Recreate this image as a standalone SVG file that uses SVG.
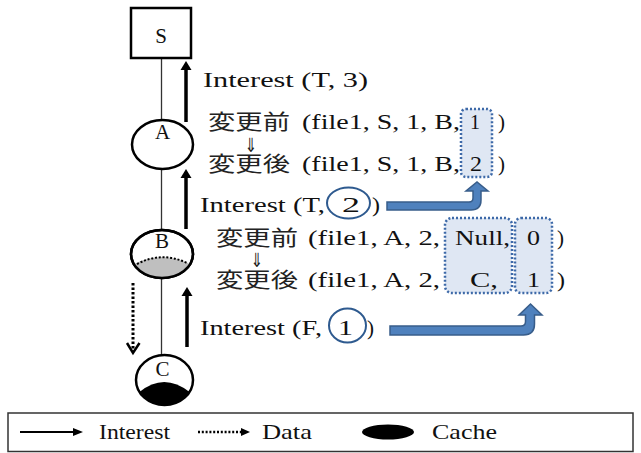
<svg xmlns="http://www.w3.org/2000/svg" width="641" height="453" viewBox="0 0 641 453">
<style>
.t{font-family:"Liberation Serif","Times New Roman",serif;font-size:21px;fill:#111}
.j{font-family:"Noto Sans CJK JP","Noto Sans CJK SC",sans-serif;font-size:21px;fill:#222}
.ar{font-family:"DejaVu Sans",sans-serif;font-size:17px;fill:#222}
.node{fill:#fff;stroke:#000;stroke-width:2.5}
.link{stroke:#333;stroke-width:1.3;fill:none}
.int{stroke:#000;stroke-width:3.5;fill:none}
.box{fill:#dfe7f3;stroke:#3d69a8;stroke-width:2.5;stroke-dasharray:2 2}
.ring{fill:none;stroke:#2e5a8f;stroke-width:2}
.blue{fill:#4f81bd;stroke:#385d8a;stroke-width:1.5}
</style>
<rect width="641" height="453" fill="#fff"/>

<g id="connectors">
<line class="link" x1="161.5" y1="58" x2="161.5" y2="120"/>
<line class="link" x1="161.5" y1="169" x2="161.5" y2="230"/>
<line class="link" x1="161.5" y1="278" x2="161.5" y2="355"/>
<line class="int" x1="186" y1="122" x2="186" y2="64"/>
<path d="M180.5,70 L186,61 L191.5,70 Z" fill="#000"/>
<line class="int" x1="186" y1="229" x2="186" y2="172"/>
<path d="M180.5,178 L186,169 L191.5,178 Z" fill="#000"/>
<line class="int" x1="187" y1="347" x2="187" y2="290"/>
<path d="M181.5,296 L187,287 L192.5,296 Z" fill="#000"/>
<line x1="133" y1="283" x2="133" y2="351" stroke="#000" stroke-width="3" stroke-dasharray="2.5 2"/>
<path d="M127,343 L133,353 L139.5,343" fill="none" stroke="#000" stroke-width="2.5"/>
<path class="blue" d="M387,202 L469,202 Q473,202 473,198 L473,191 L466,191 L477,182 L488,191 L481,191 L481,200 Q481,210 471,210 L387,210 Z"/>
<path class="blue" d="M390,326 L521,326 Q525.5,326 525.5,321.5 L525.5,315 L519,315 L530.5,304 L542,315 L534.5,315 L534.5,324 Q534.5,335 523.5,335 L390,335 Z"/>
</g>

<g id="node-S">
<rect class="node" x="131" y="8" width="60" height="50"/>
<text class="t" x="161" y="43" text-anchor="middle" font-size="20">S</text>
</g>
<g id="node-A">
<ellipse class="node" cx="162.5" cy="144.5" rx="30.5" ry="24.5"/>
<text class="t" x="162.5" y="139" text-anchor="middle" font-size="19">A</text>
</g>
<g id="node-B">
<ellipse class="node" cx="162" cy="254" rx="31" ry="24"/>
<path d="M134,264 Q162,250 190,264 A31,24 0 0 1 134,264 Z" fill="#bfbfbf"/>
<path d="M137,264 Q162,251 187,263" fill="none" stroke="#000" stroke-width="2" stroke-dasharray="2 1.8"/>
<ellipse cx="162" cy="254" rx="31" ry="24" fill="none" stroke="#000" stroke-width="2.5"/>
<text class="t" x="162" y="248" text-anchor="middle" font-size="19">B</text>
</g>
<g id="node-C">
<ellipse class="node" cx="164.5" cy="380" rx="28.5" ry="25"/>
<path d="M139.5,392 Q164,372 189.5,392 A28.5,25 0 0 1 139.5,392 Z" fill="#000"/>
<text class="t" x="162.5" y="376" text-anchor="middle" font-size="19">C</text>
</g>

<g id="labels">
<text class="t" x="203" y="87" textLength="165" lengthAdjust="spacingAndGlyphs">Interest (T, 3)</text>

<rect class="box" x="461" y="109" width="31" height="68" rx="5"/>
<text class="j" x="208" y="129" textLength="82" lengthAdjust="spacingAndGlyphs">変更前</text>
<text class="t" x="302" y="129" textLength="158" lengthAdjust="spacingAndGlyphs">(file1, S, 1, B,</text>
<text class="t" x="470" y="129" textLength="10" lengthAdjust="spacingAndGlyphs">1</text>
<text class="t" x="498" y="129" textLength="7" lengthAdjust="spacingAndGlyphs">)</text>
<text class="ar" x="251" y="152" text-anchor="middle" transform="translate(251,152) scale(0.9,1.15) translate(-251,-152)">⇓</text>
<text class="j" x="208" y="171" textLength="82" lengthAdjust="spacingAndGlyphs">変更後</text>
<text class="t" x="302" y="171" textLength="158" lengthAdjust="spacingAndGlyphs">(file1, S, 1, B,</text>
<text class="t" x="470" y="171" textLength="12" lengthAdjust="spacingAndGlyphs">2</text>
<text class="t" x="498" y="171" textLength="7" lengthAdjust="spacingAndGlyphs">)</text>

<text class="t" x="200" y="212" textLength="125" lengthAdjust="spacingAndGlyphs">Interest (T,</text>
<ellipse class="ring" cx="348.5" cy="203" rx="21.5" ry="15.5"/>
<text class="t" x="342" y="212" textLength="18" lengthAdjust="spacingAndGlyphs">2</text>
<text class="t" x="372" y="212" textLength="8" lengthAdjust="spacingAndGlyphs">)</text>

<rect class="box" x="445" y="218" width="67" height="75" rx="7"/>
<rect class="box" x="515" y="218" width="37" height="75" rx="6"/>
<text class="j" x="216" y="245" textLength="82" lengthAdjust="spacingAndGlyphs">変更前</text>
<text class="t" x="308" y="245" textLength="132" lengthAdjust="spacingAndGlyphs">(file1, A, 2,</text>
<text class="t" x="455" y="245" textLength="55" lengthAdjust="spacingAndGlyphs">Null,</text>
<text class="t" x="527" y="245" textLength="13" lengthAdjust="spacingAndGlyphs">0</text>
<text class="t" x="557" y="245" textLength="7" lengthAdjust="spacingAndGlyphs">)</text>
<text class="ar" x="257" y="267" text-anchor="middle" transform="translate(257,267) scale(0.9,1.15) translate(-257,-267)">⇓</text>
<text class="j" x="216" y="287" textLength="82" lengthAdjust="spacingAndGlyphs">変更後</text>
<text class="t" x="308" y="287" textLength="132" lengthAdjust="spacingAndGlyphs">(file1, A, 2,</text>
<text class="t" x="470" y="287" textLength="28" lengthAdjust="spacingAndGlyphs">C,</text>
<text class="t" x="527" y="287" textLength="13" lengthAdjust="spacingAndGlyphs">1</text>
<text class="t" x="557" y="287" textLength="8" lengthAdjust="spacingAndGlyphs">)</text>

<text class="t" x="200" y="335" textLength="122" lengthAdjust="spacingAndGlyphs">Interest (F,</text>
<ellipse class="ring" cx="347.5" cy="325.5" rx="18.5" ry="17"/>
<text class="t" x="338" y="335" textLength="15" lengthAdjust="spacingAndGlyphs">1</text>
<text class="t" x="367" y="335" textLength="7" lengthAdjust="spacingAndGlyphs">)</text>
</g>

<g id="legend">
<rect x="8" y="413" width="625" height="38.5" fill="#fff" stroke="#333" stroke-width="1.5"/>
<line x1="20" y1="432" x2="75" y2="432" stroke="#000" stroke-width="2"/>
<path d="M73,428 L83,432 L73,436 Z" fill="#000"/>
<text class="t" x="99" y="439" textLength="71" lengthAdjust="spacingAndGlyphs">Interest</text>
<line x1="198" y1="432" x2="242" y2="432" stroke="#000" stroke-width="2.5" stroke-dasharray="2 1.8"/>
<path d="M241,428 L250,432 L241,436 Z" fill="#000"/>
<text class="t" x="262" y="439" textLength="50" lengthAdjust="spacingAndGlyphs">Data</text>
<ellipse cx="388" cy="432" rx="26" ry="7.5" fill="#000"/>
<text class="t" x="432" y="439" textLength="65" lengthAdjust="spacingAndGlyphs">Cache</text>
</g>
</svg>
